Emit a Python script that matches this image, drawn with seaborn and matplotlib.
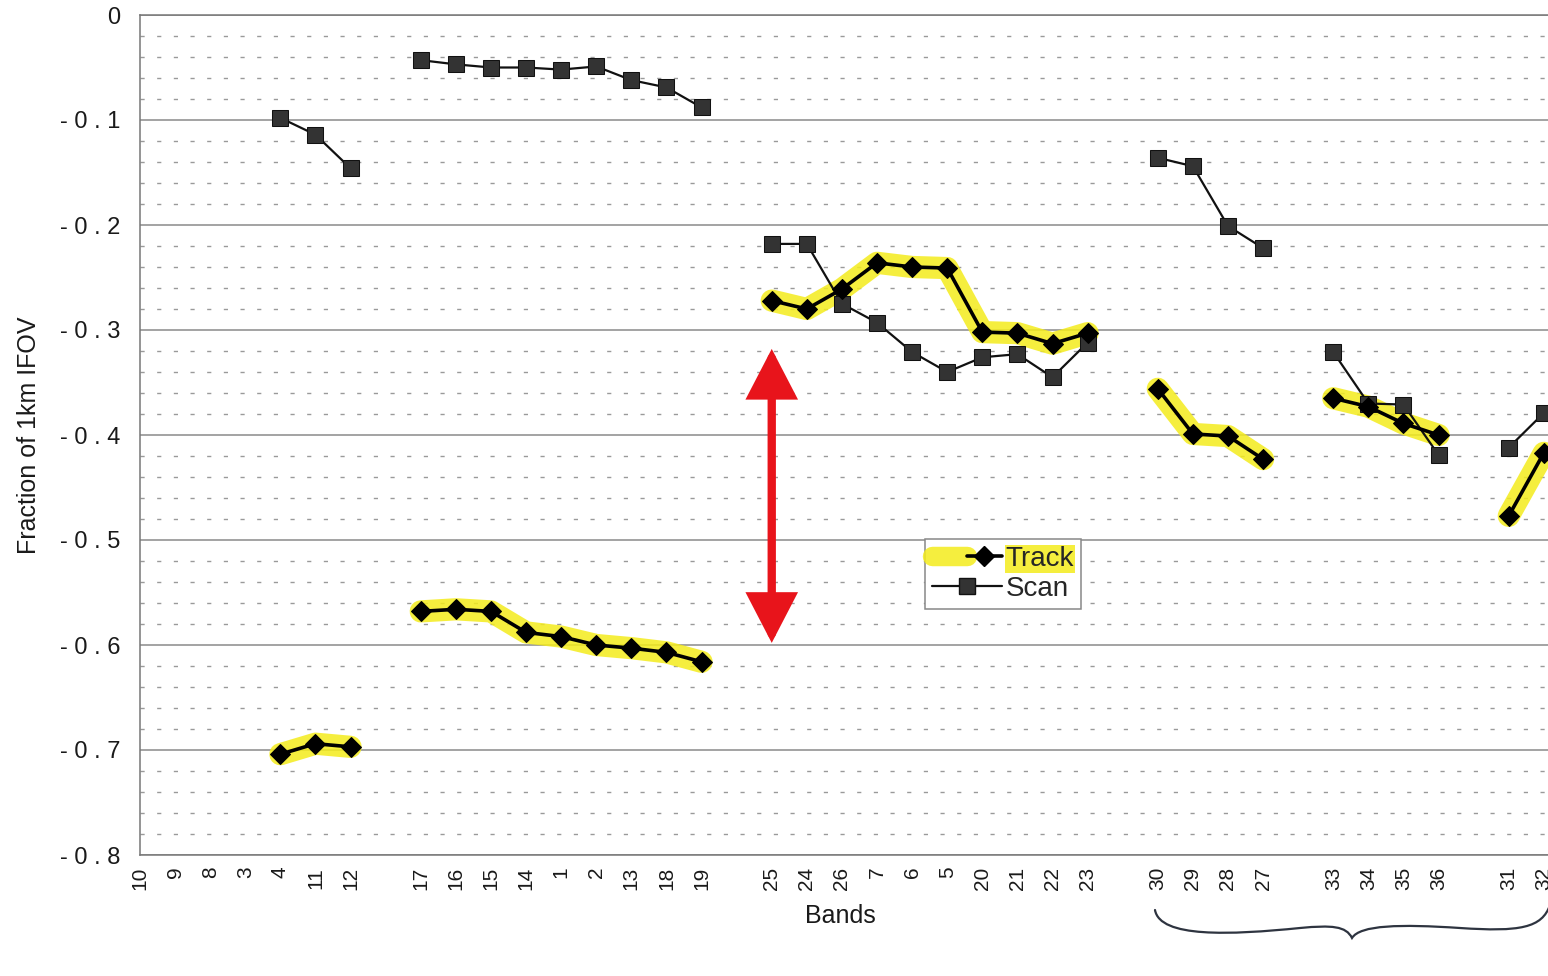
import numpy as np
import pandas as pd
import matplotlib
matplotlib.use("Agg")
import matplotlib.pyplot as plt
import seaborn as sns
from matplotlib.patches import FancyArrowPatch, PathPatch
from matplotlib.path import Path
from matplotlib.lines import Line2D
from matplotlib.legend_handler import HandlerTuple
from matplotlib.ticker import MultipleLocator, FixedLocator

nan = np.nan

# Band order along the x axis, one list per detector group
band_groups = [
    ["10", "9", "8", "3", "4", "11", "12"],
    ["17", "16", "15", "14", "1", "2", "13", "18", "19"],
    ["25", "24", "26", "7", "6", "5", "20", "21", "22", "23"],
    ["30", "29", "28", "27"],
    ["33", "34", "35", "36"],
    ["31", "32"],
]

# Track (along-track) offsets, fraction of 1 km IFOV
track_groups = [
    [nan, nan, nan, nan, -0.704, -0.694, -0.697],
    [-0.568, -0.566, -0.568, -0.588, -0.592, -0.600, -0.603, -0.607, -0.616],
    [-0.272, -0.280, -0.261, -0.236, -0.240, -0.241, -0.302, -0.303, -0.313, -0.303],
    [-0.356, -0.399, -0.401, -0.423],
    [-0.365, -0.373, -0.389, -0.400],
    [-0.477, -0.417],
]

# Scan offsets, fraction of 1 km IFOV
scan_groups = [
    [nan, nan, nan, nan, -0.098, -0.114, -0.146],
    [-0.043, -0.047, -0.050, -0.050, -0.052, -0.049, -0.062, -0.069, -0.088],
    [-0.218, -0.218, -0.275, -0.293, -0.321, -0.340, -0.326, -0.323, -0.345, -0.312],
    [-0.136, -0.144, -0.201, -0.222],
    [-0.321, -0.370, -0.371, -0.419],
    [-0.412, -0.379],
]

y_ticks = [0, -0.1, -0.2, -0.3, -0.4, -0.5, -0.6, -0.7, -0.8]
y_tick_labels = ["0", "- 0 . 1", "- 0 . 2", "- 0 . 3", "- 0 . 4",
                 "- 0 . 5", "- 0 . 6", "- 0 . 7", "- 0 . 8"]

# ---- long-form table: one empty slot between groups on the category axis
rows = []
tick_labels = []
pos = 0
for g, bands in enumerate(band_groups):
    if g > 0:
        tick_labels.append("")
        pos += 1
    for k, b in enumerate(bands):
        tick_labels.append(b)
        rows.append(dict(pos=pos, band=b, group=g, series="Track", value=track_groups[g][k]))
        rows.append(dict(pos=pos, band=b, group=g, series="Scan", value=scan_groups[g][k]))
        pos += 1
df = pd.DataFrame(rows).dropna()
track_df = df[df.series == "Track"]
scan_df = df[df.series == "Scan"]

sns.set_style("white")
plt.rcParams["font.family"] = ["Liberation Sans", "DejaVu Sans"]

W, H = 1548, 976
fig = plt.figure(figsize=(W / 100, H / 100), dpi=100)
ax = fig.add_axes([140 / W, (H - 855) / H, 1420 / W, 840 / H])

yellow = "#f4ec1c"

# highlighter strokes behind the track curves
sns.lineplot(data=track_df, x="pos", y="value", units="group", estimator=None,
             sort=False, color=yellow, lw=16, alpha=0.85, ax=ax, legend=False,
             solid_capstyle="round", solid_joinstyle="round", zorder=2)

sns.lineplot(data=scan_df, x="pos", y="value", units="group", estimator=None,
             sort=False, color="#111111", lw=1.6, marker="s", markersize=11,
             markerfacecolor="#333333", markeredgecolor="#111111",
             ax=ax, legend=False, zorder=3)

sns.lineplot(data=track_df, x="pos", y="value", units="group", estimator=None,
             sort=False, color="black", lw=2.6, marker="D", markersize=10,
             markerfacecolor="black", markeredgecolor="black",
             ax=ax, legend=False, zorder=4)

# axes, ticks, grid
ax.set_xlim(0, 40.46)
ax.set_ylim(-0.8, 0)
ax.xaxis.set_major_locator(FixedLocator(range(len(tick_labels))))
ax.set_xticklabels(tick_labels, rotation=90, fontsize=15)
ax.xaxis.set_minor_locator(FixedLocator(np.arange(0.5, len(tick_labels), 1.0)))
ax.set_yticks(y_ticks)
ax.set_yticklabels(y_tick_labels, fontsize=17)
ax.yaxis.set_minor_locator(MultipleLocator(0.02))

ax.tick_params(axis="x", which="major", direction="inout", length=9, width=1,
               color="#666666", pad=4)
ax.tick_params(axis="x", which="minor", direction="inout", length=4, width=1,
               color="#666666")
ax.tick_params(axis="y", which="major", direction="out", length=8, width=1,
               color="#666666", pad=6)
ax.tick_params(axis="y", which="minor", direction="in", length=3, width=1,
               color="#666666")
ax.tick_params(axis="both", labelcolor="#1a1a1a")

ax.grid(False)
ax.grid(which="major", axis="y", color="#8a8a8a", lw=1.1, zorder=0)
ax.grid(which="minor", axis="y", color="#9a9a9a", lw=1.0, linestyle=(0, (3, 9)), zorder=0)
ax.set_axisbelow(True)

for side in ["left", "bottom", "top"]:
    ax.spines[side].set_color("#777777")
    ax.spines[side].set_linewidth(1.1)
ax.spines["right"].set_visible(False)

ax.set_xlabel("Bands", fontsize=18, color="#1a1a1a")
ax.xaxis.set_label_coords(0.493, -0.058)
ax.set_ylabel("Fraction of 1km IFOV", fontsize=18, labelpad=14, color="#1a1a1a")

# legend
h_track = Line2D([], [], color="black", lw=2.6, marker="D", markersize=10)
h_hl = Line2D([], [], color=yellow, lw=14, alpha=0.85)
h_scan = Line2D([], [], color="#111111", lw=1.6, marker="s", markersize=11,
                markerfacecolor="#333333")
leg = ax.legend([(h_hl, h_track), h_scan], ["Track", "Scan"],
                handler_map={tuple: HandlerTuple(ndivide=None, pad=0)},
                loc="lower left", bbox_to_anchor=(0.553, 0.293),
                fontsize=20, handlelength=2.5, handletextpad=0.15,
                borderpad=0.25, labelspacing=0.15, borderaxespad=0,
                frameon=True, fancybox=False, framealpha=1,
                edgecolor="#888888")
leg.get_frame().set_linewidth(1.1)
leg.set_zorder(6)
leg.get_texts()[0].set_bbox(dict(facecolor=yellow, edgecolor="none", alpha=0.85, pad=0.5))

# red double arrow between the two groups
arrow = FancyArrowPatch((18, -0.598), (18, -0.318),
                        arrowstyle="<|-|>,head_length=1.35,head_width=0.7",
                        mutation_scale=20, lw=6, color="#e8141b",
                        shrinkA=0, shrinkB=0, joinstyle="miter", zorder=7)
ax.add_patch(arrow)

# hand-drawn brace under the last groups of bands
def fpt(x, y):
    return (x / W, 1 - y / H)

verts = [fpt(1155, 910),
         fpt(1160, 938), fpt(1230, 935), fpt(1300, 928),
         fpt(1332, 925), fpt(1346, 926), fpt(1352, 938),
         fpt(1360, 925), fpt(1400, 924), fpt(1460, 928),
         fpt(1520, 932), fpt(1542, 928), fpt(1550, 905)]
codes = [Path.MOVETO] + [Path.CURVE4] * 12
brace = PathPatch(Path(verts, codes), transform=fig.transFigure, fill=False,
                  edgecolor="#2e3440", lw=1.6, capstyle="round", clip_on=False)
fig.patches.append(brace)

fig.savefig("out.png", dpi=100)
